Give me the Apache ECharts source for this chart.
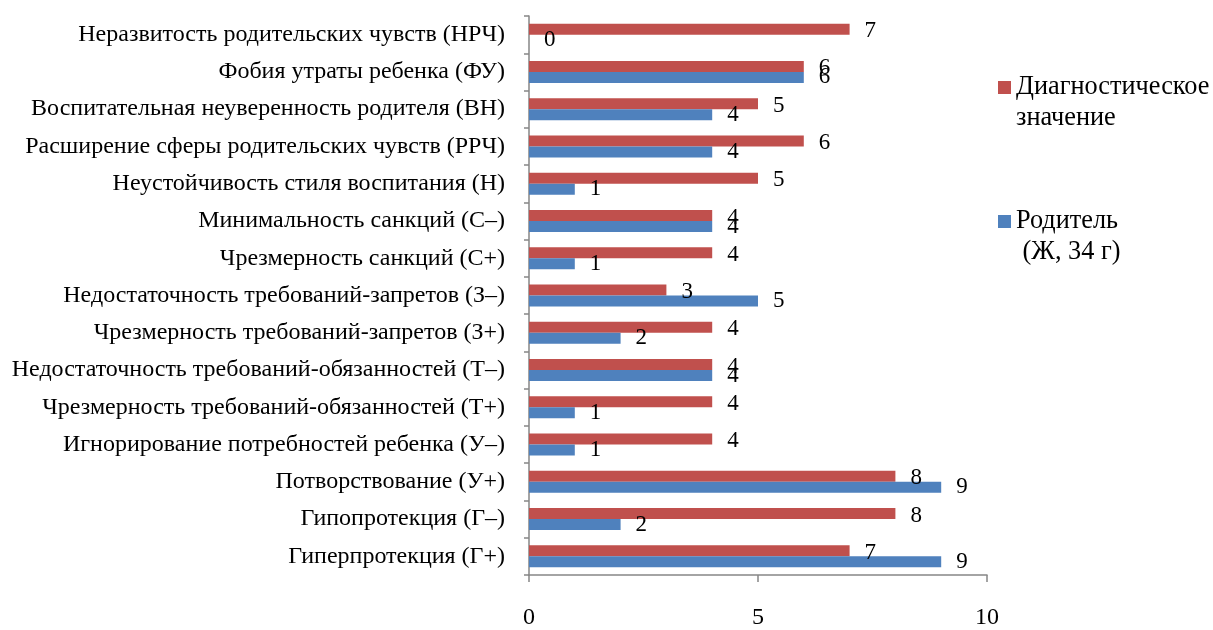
<!DOCTYPE html>
<html>
<head>
<meta charset="utf-8">
<script src="https://cdn.jsdelivr.net/npm/echarts@6/dist/echarts.min.js"></script>
<style>
  html, body { margin: 0; padding: 0; background: #fff; }
  #chart { width: 1213px; height: 630px; }
</style>
</head>
<body>
<div id="chart"></div>
<script>
// Scales of parental attitude (top to bottom)
const categories = [
  'Неразвитость родительских чувств (НРЧ)',
  'Фобия утраты ребенка (ФУ)',
  'Воспитательная неуверенность родителя (ВН)',
  'Расширение сферы родительских чувств (РРЧ)',
  'Неустойчивость стиля воспитания (Н)',
  'Минимальность санкций (С–)',
  'Чрезмерность санкций (С+)',
  'Недостаточность требований-запретов (З–)',
  'Чрезмерность требований-запретов (З+)',
  'Недостаточность требований-обязанностей (Т–)',
  'Чрезмерность требований-обязанностей (Т+)',
  'Игнорирование потребностей ребенка (У–)',
  'Потворствование (У+)',
  'Гипопротекция (Г–)',
  'Гиперпротекция (Г+)'
];
const diagnosticValues = [7, 6, 5, 6, 5, 4, 4, 3, 4, 4, 4, 4, 8, 8, 7];
const parentValues     = [0, 6, 4, 4, 1, 4, 1, 5, 2, 4, 1, 1, 9, 2, 9];
const seriesNames = ['Диагностическое\nзначение', 'Родитель\n (Ж, 34 г)'];
const xTicks = { min: 0, max: 10, interval: 5 };

const FONT = '"Liberation Serif", "Times New Roman", serif';
const AXIS_COLOR = '#868686';

const chart = echarts.init(document.getElementById('chart'), null, { renderer: 'canvas' });

const valueLabel = {
  show: true,
  position: 'right',
  distance: 15,
  color: '#000',
  fontFamily: FONT,
  fontSize: 23
};

chart.setOption({
  animation: false,
  backgroundColor: '#fff',
  textStyle: { fontFamily: FONT },
  grid: { left: 529, top: 16, width: 458, height: 564, containLabel: false },
  legend: {
    orient: 'vertical',
    left: 993,
    top: 36,
    itemWidth: 13,
    itemHeight: 13,
    itemGap: 41,
    icon: 'rect',
    data: seriesNames,
    // a leading empty line keeps the marker level with the first text line
    formatter: name => '\n' + name,
    textStyle: {
      fontFamily: FONT,
      fontSize: 26.3,
      color: '#000',
      lineHeight: 31
    }
  },
  xAxis: {
    type: 'value',
    min: xTicks.min,
    max: xTicks.max,
    interval: xTicks.interval,
    splitLine: { show: false },
    axisLine: { show: true, lineStyle: { color: AXIS_COLOR, width: 1.5 } },
    axisTick: { show: true, length: 7, lineStyle: { color: AXIS_COLOR, width: 1.5 } },
    axisLabel: { color: '#000', fontFamily: FONT, fontSize: 24, margin: 31 }
  },
  yAxis: {
    type: 'category',
    inverse: true,
    data: categories,
    axisLine: { show: true, lineStyle: { color: AXIS_COLOR, width: 1.5 } },
    axisTick: { show: true, length: 5, lineStyle: { color: AXIS_COLOR, width: 1.5 } },
    axisLabel: { color: '#000', fontFamily: FONT, fontSize: 24, margin: 24 }
  },
  series: [
    {
      name: seriesNames[0],
      type: 'bar',
      data: diagnosticValues,
      barGap: '0%',
      barCategoryGap: '41%',
      itemStyle: { color: '#C0504D' },
      label: Object.assign({}, valueLabel, { offset: [0, 2] })
    },
    {
      name: seriesNames[1],
      type: 'bar',
      data: parentValues,
      barGap: '0%',
      barCategoryGap: '41%',
      itemStyle: { color: '#4F81BD' },
      label: valueLabel
    }
  ]
});
</script>
</body>
</html>
